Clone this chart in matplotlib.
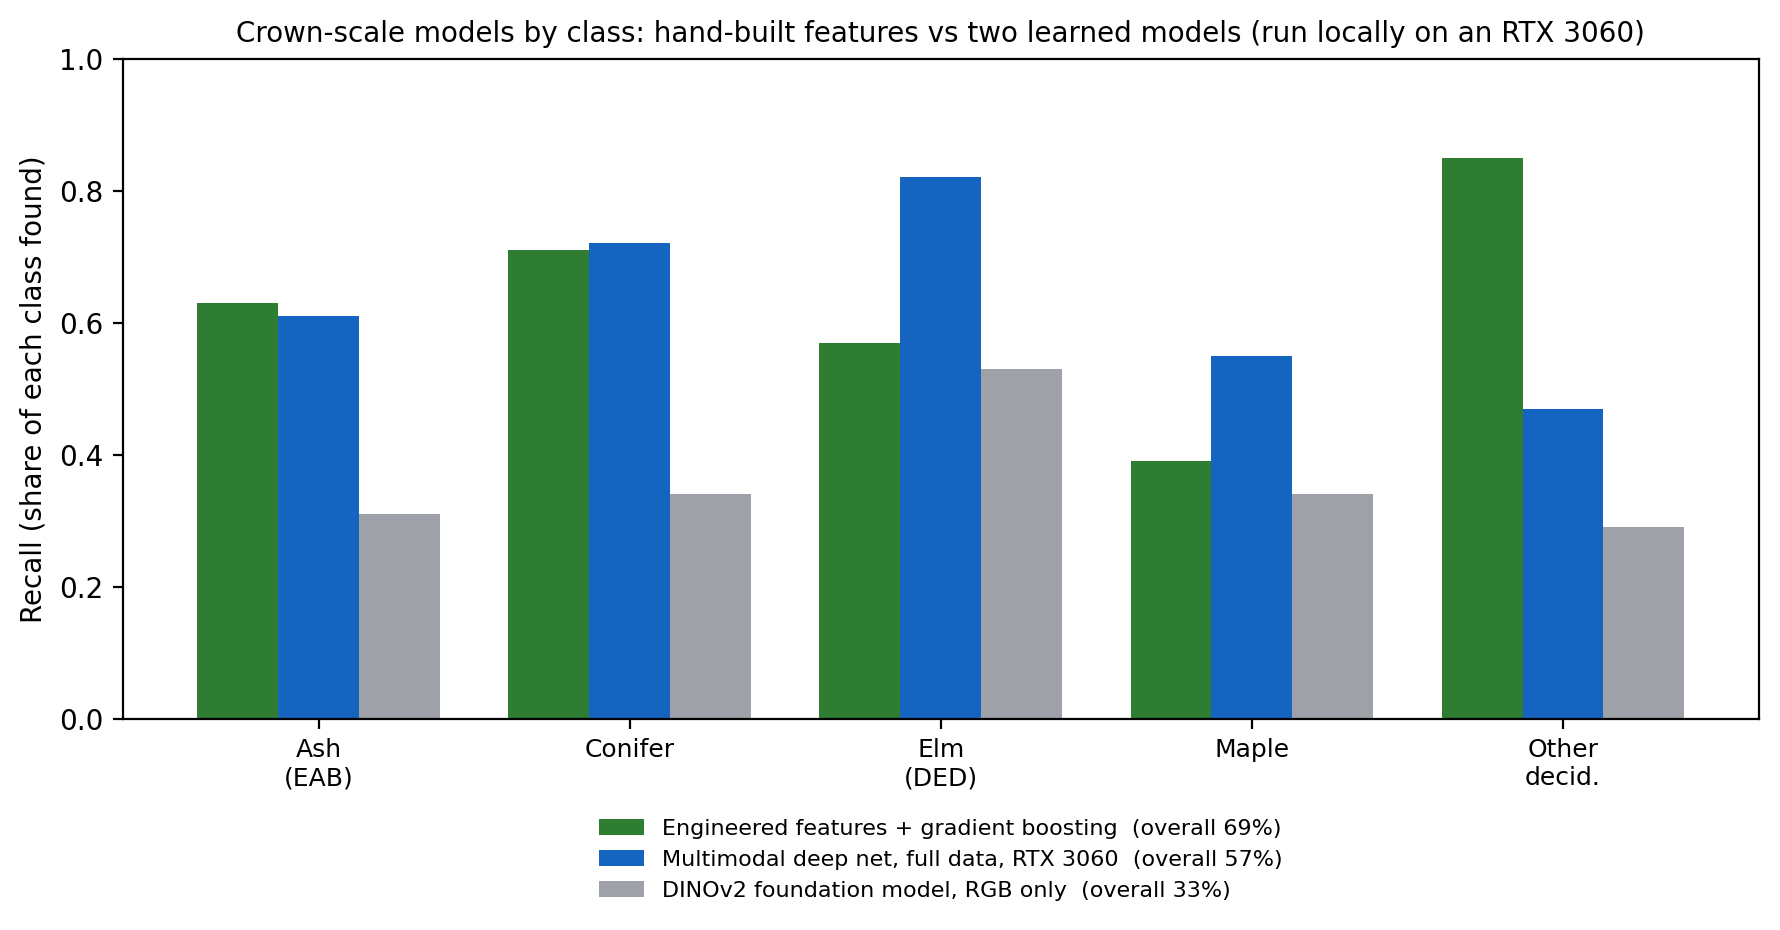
import numpy as np
import matplotlib
matplotlib.use("Agg")
import matplotlib.pyplot as plt

# Datos
classes = ["Ash\n(EAB)", "Conifer", "Elm\n(DED)", "Maple", "Other\ndecid."]
engineered = [0.63, 0.71, 0.57, 0.39, 0.85]
multimodal = [0.61, 0.72, 0.82, 0.55, 0.47]
dinov2 = [0.31, 0.34, 0.53, 0.34, 0.29]

labels = [
    "Engineered features + gradient boosting  (overall 69%)",
    "Multimodal deep net, full data, RTX 3060  (overall 57%)",
    "DINOv2 foundation model, RGB only  (overall 33%)",
]
colors = ["#2e7d32", "#1565c0", "#9ea1a8"]

fig, ax = plt.subplots(figsize=(8.9, 4.65), dpi=200)
x = np.arange(len(classes))
w = 0.26

for i, (vals, lab, col) in enumerate(zip([engineered, multimodal, dinov2], labels, colors)):
    ax.bar(x + (i - 1) * w, vals, w, label=lab, color=col)

ax.set_ylim(0, 1.0)
ax.set_xticks(x)
ax.set_xticklabels(classes, fontsize=9)
ax.tick_params(axis="y", labelsize=10)
ax.set_ylabel("Recall (share of each class found)", fontsize=10)
ax.set_title("Crown-scale models by class: hand-built features vs two learned models (run locally on an RTX 3060)",
             fontsize=10)
ax.legend(loc="upper center", bbox_to_anchor=(0.5, -0.121), frameon=False, fontsize=8)

fig.subplots_adjust(left=0.069, right=0.988, top=0.937, bottom=0.227)
fig.savefig("out.png", dpi=200)
